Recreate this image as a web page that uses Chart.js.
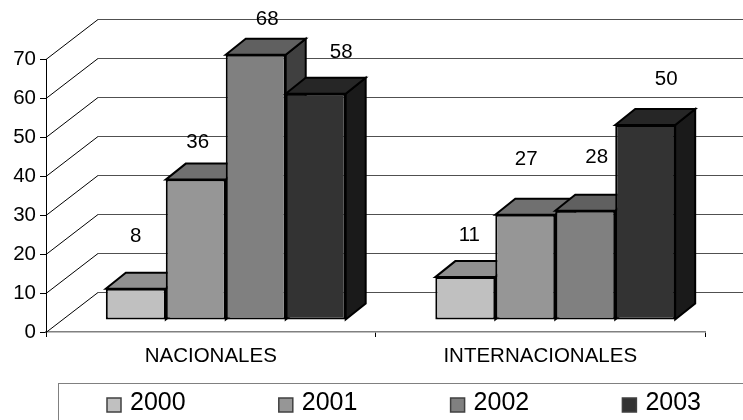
<!DOCTYPE html>
<html>
<head>
<meta charset="utf-8">
<style>
  html, body { margin: 0; padding: 0; background: #fff; overflow: hidden; }
  canvas { display: block; }
</style>
<script src="https://cdn.jsdelivr.net/npm/chart.js@4"></script>
</head>
<body>
<canvas id="chart" width="743" height="420"></canvas>
<script>
const categories = ["NACIONALES", "INTERNACIONALES"];
const years = ["2000", "2001", "2002", "2003"];
const values2000 = [8, 11];
const values2001 = [36, 27];
const values2002 = [68, 28];
const values2003 = [58, 50];
const yTicks = [0, 10, 20, 30, 40, 50, 60, 70];

const frontColors = ["#C0C0C0", "#969696", "#808080", "#333333"];
const topColors = ["#909090", "#707070", "#606060", "#262626"];
const sideColors = ["#808080", "#4B4B4B", "#404040", "#1A1A1A"];

// hand placed labels, same as the original: offset from top centre of the bar front
const labelNudge = [
  [[0, -52], [4, -42]],
  [[2, -37], [1, -55]],
  [[11.5, -35], [11.5, -53]],
  [[25.5, -41], [21, -46]]
];

const FONT = "'Liberation Sans', Arial, sans-serif";
const wall = { dx: 52, dy: -40 };      // back wall offset
const depth = { dx: 20, dy: -16 };     // bar depth
const shift = { dx: 15, dy: -12 };     // bars stand inside the floor

const poly = (ctx, pts, fill) => {
  ctx.beginPath();
  pts.forEach((p, i) => (i ? ctx.lineTo(p[0], p[1]) : ctx.moveTo(p[0], p[1])));
  ctx.closePath();
  ctx.fillStyle = fill;
  ctx.fill();
  ctx.strokeStyle = "#000";
  ctx.lineWidth = 2;
  ctx.lineJoin = "miter";
  ctx.stroke();
};

const wallPlugin = {
  id: "wall",
  beforeDatasetsDraw(chart) {
    const { ctx, scales: { y } } = chart;
    const left = chart.chartArea.left;
    const right = chart.chartArea.right + wall.dx;
    ctx.save();
    yTicks.forEach((v) => {
      const py = Math.round(y.getPixelForValue(v)) + 0.5;
      ctx.lineWidth = 1;
      ctx.strokeStyle = "#000";
      ctx.beginPath();
      ctx.moveTo(left, py);
      ctx.lineTo(left + wall.dx, py + wall.dy);
      ctx.stroke();
      ctx.strokeStyle = "#505050";
      ctx.beginPath();
      ctx.moveTo(left + wall.dx, py + wall.dy);
      ctx.lineTo(right, py + wall.dy);
      ctx.stroke();
    });
    ctx.restore();
  }
};

// draws bars left to right so each one hides the side of the previous one
const barsPlugin = {
  id: "bars3d",
  beforeDatasetsDraw(chart) {
    const ctx = chart.ctx;
    ctx.save();
    ctx.translate(shift.dx, shift.dy);
    chart.getSortedVisibleDatasetMetas().forEach((meta) => {
      const i = meta.index;
      meta.data.forEach((bar) => {
        const p = bar.getProps(["x", "y", "base", "width"]);
        const l = p.x - p.width / 2, r = p.x + p.width / 2;
        poly(ctx, [[r, p.y], [r + depth.dx, p.y + depth.dy], [r + depth.dx, p.base + depth.dy], [r, p.base]], sideColors[i]);
        poly(ctx, [[l, p.y], [l + depth.dx, p.y + depth.dy], [r + depth.dx, p.y + depth.dy], [r, p.y]], topColors[i]);
        bar.draw(ctx);
      });
    });
    ctx.restore();

    ctx.save();
    ctx.font = "20.5px " + FONT;
    ctx.fillStyle = "#000";
    ctx.textAlign = "center";
    ctx.textBaseline = "middle";
    chart.getSortedVisibleDatasetMetas().forEach((meta) => {
      meta.data.forEach((bar, j) => {
        const n = labelNudge[meta.index][j];
        ctx.fillText(String(chart.data.datasets[meta.index].data[j]), bar.x + shift.dx + n[0], bar.y + shift.dy + n[1]);
      });
    });
    ctx.restore();
    return false;
  }
};

const boxLegend = {
  id: "boxLegend",
  afterDraw(chart) {
    const ctx = chart.ctx;
    ctx.save();
    ctx.strokeStyle = "#808080";
    ctx.lineWidth = 1;
    ctx.strokeRect(58.5, 383.5, 720, 60);
    ctx.font = "25px " + FONT;
    ctx.textBaseline = "middle";
    chart.data.datasets.forEach((ds, i) => {
      const x = 107 + i * 171.8;
      ctx.fillStyle = ds.backgroundColor;
      ctx.fillRect(x, 398, 14, 14);
      ctx.strokeStyle = "#404040";
      ctx.lineWidth = 1.5;
      ctx.strokeRect(x, 398, 14, 14);
      ctx.fillStyle = "#000";
      ctx.fillText(ds.label, x + 23, 403);
    });
    ctx.restore();
  }
};

new Chart(document.getElementById("chart"), {
  type: "bar",
  data: {
    labels: categories,
    datasets: [values2000, values2001, values2002, values2003].map((data, i) => ({
      label: years[i],
      data: data,
      backgroundColor: frontColors[i],
      borderColor: "#000",
      borderWidth: 2,
      borderSkipped: false,
      categoryPercentage: 0.728,
      barPercentage: 1
    }))
  },
  options: {
    responsive: false,
    animation: false,
    layout: { padding: { top: 59, right: 38, left: 0, bottom: 0 } },
    plugins: { legend: { display: false }, tooltip: { enabled: false } },
    scales: {
      x: {
        afterFit(scale) { scale.height = 88; },
        grid: { drawOnChartArea: false, drawTicks: true, tickLength: 5, color: "#000" },
        border: { color: "#808080", width: 1.5 },
        ticks: { color: "#000", font: { family: FONT, size: 20.5 }, padding: 7, maxRotation: 0 }
      },
      y: {
        min: 0,
        max: 70,
        afterFit(scale) { scale.width = 46; },
        grid: { drawOnChartArea: false, drawTicks: true, tickLength: 6, color: "#000" },
        border: { color: "#000", width: 1 },
        ticks: { stepSize: 10, color: "#000", font: { family: FONT, size: 20.5 }, padding: 4 }
      }
    }
  },
  plugins: [wallPlugin, barsPlugin, boxLegend]
});
</script>
</body>
</html>
